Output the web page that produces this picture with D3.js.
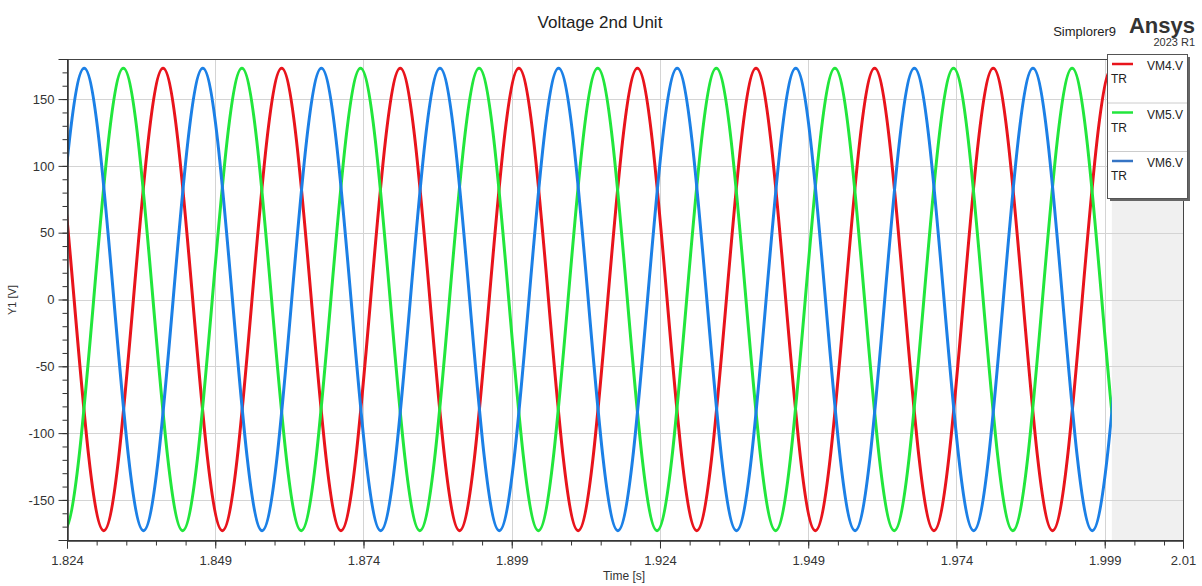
<!DOCTYPE html>
<html>
<head>
<meta charset="utf-8">
<script src="https://cdn.jsdelivr.net/npm/d3@7"></script>
<style>
  html, body { margin: 0; padding: 0; background: #fff; }
  svg { display: block; font-family: "Liberation Sans", Arial, sans-serif; }
</style>
</head>
<body>
<svg id="chart" width="1202" height="586"></svg>
<script>
// ---- data (waveform extremes; the curve is clipped to the data window) ----
const seriesNames = ["VM4.V", "VM5.V", "VM6.V"];
const dataStart = 1.824;
const dataEnd = 2.0002;

const redT = [1.8102, 1.8202, 1.8302, 1.8402, 1.8502, 1.8602, 1.8702, 1.8802, 1.8902, 1.9002, 1.9102,
              1.9202, 1.9302, 1.9402, 1.9502, 1.9602, 1.9702, 1.9802, 1.9902, 2.0002, 2.0102];
const redV = [-173, 173, -173, 173, -173, 173, -173, 173, -173, 173, -173,
              173, -173, 173, -173, 173, -173, 173, -173, 173, -173];

const greenT = [1.8135, 1.8235, 1.8335, 1.8435, 1.8535, 1.8635, 1.8735, 1.8835, 1.8935, 1.9035, 1.9135,
                1.9235, 1.9335, 1.9435, 1.9535, 1.9635, 1.9735, 1.9835, 1.9935, 2.0035, 2.0135];
const greenV = [173, -173, 173, -173, 173, -173, 173, -173, 173, -173, 173,
                -173, 173, -173, 173, -173, 173, -173, 173, -173, 173];

const blueT = [1.8069, 1.8169, 1.8269, 1.8369, 1.8469, 1.8569, 1.8669, 1.8769, 1.8869, 1.8969, 1.9069,
               1.9169, 1.9269, 1.9369, 1.9469, 1.9569, 1.9669, 1.9769, 1.9869, 1.9969, 2.0069, 2.0169];
const blueV = [173, -173, 173, -173, 173, -173, 173, -173, 173, -173, 173,
               -173, 173, -173, 173, -173, 173, -173, 173, -173, 173, -173];

const xTickValues = [1.824, 1.849, 1.874, 1.899, 1.924, 1.949, 1.974, 1.999, 2.0122];
const xTickLabels = ["1.824", "1.849", "1.874", "1.899", "1.924", "1.949", "1.974", "1.999", "2.01"];
const yTickValues = [-150, -100, -50, 0, 50, 100, 150];

// ---- layout ----
const svg = d3.select("#chart");
const L = 67, R = 1183, T = 59, B = 540;
const x = d3.scaleLinear().domain([1.824, 2.0122]).range([L, R]);
const y = d3.scaleLinear().domain([-180, 180]).range([B, T]);
const colors = ["#e8141c", "#22e63c", "#1c80e6"];
const legendColors = ["#e8141c", "#22e63c", "#3574c4"];

// gray region after data end
svg.append("rect")
  .attr("x", x(dataEnd)).attr("y", T)
  .attr("width", R - x(dataEnd)).attr("height", B - T)
  .attr("fill", "#f0f0f0");

// grid
const grid = svg.append("g").attr("stroke", "#d4d4d4").attr("stroke-width", 1);
yTickValues.forEach(v => {
  grid.append("line").attr("x1", L).attr("x2", R)
    .attr("y1", Math.round(y(v)) + 0.5).attr("y2", Math.round(y(v)) + 0.5);
});
xTickValues.slice(1, 8).forEach(v => {
  grid.append("line").attr("y1", T).attr("y2", B)
    .attr("x1", Math.round(x(v)) + 0.5).attr("x2", Math.round(x(v)) + 0.5);
});

// curves
svg.append("clipPath").attr("id", "clip")
  .append("rect").attr("x", x(dataStart)).attr("y", T - 10)
  .attr("width", x(dataEnd) - x(dataStart)).attr("height", B - T + 20);

const line = d3.line().x(d => x(d[0])).y(d => y(d[1])).curve(d3.curveMonotoneX);
const series = [
  d3.zip(redT, redV),
  d3.zip(greenT, greenV),
  d3.zip(blueT, blueV)
];
const curves = svg.append("g").attr("clip-path", "url(#clip)");
series.forEach((s, i) => {
  curves.append("path").attr("d", line(s))
    .attr("fill", "none").attr("stroke", colors[i])
    .attr("stroke-width", 3).attr("stroke-linejoin", "round");
});

// frame
svg.append("rect").attr("x", L + 0.5).attr("y", T + 0.5)
  .attr("width", R - L).attr("height", B - T)
  .attr("fill", "none").attr("stroke", "#444").attr("stroke-width", 1);

// axes
const xMinor = d3.range(0, 38).map(k => 1.824 + k * 0.005).filter(v => v <= 2.0122);
const xAxisMinor = d3.axisBottom(x).tickValues(xMinor).tickSize(5).tickFormat("");
const xAxis = d3.axisBottom(x).tickValues(xTickValues).tickSize(8)
  .tickFormat((d, i) => xTickLabels[i]);
const gxm = svg.append("g").attr("transform", `translate(0,${B + 0.5})`).call(xAxisMinor);
const gx = svg.append("g").attr("transform", `translate(0,${B + 0.5})`).call(xAxis);

const yMinor = d3.range(-170, 180, 10);
const yAxisMinor = d3.axisLeft(y).tickValues(yMinor).tickSize(5).tickFormat("");
const yAxis = d3.axisLeft(y).tickValues(yTickValues).tickSize(9).tickFormat(d => String(d));
const gym = svg.append("g").attr("transform", `translate(${L + 0.5},0)`).call(yAxisMinor);
const gy = svg.append("g").attr("transform", `translate(${L + 0.5},0)`).call(yAxis);

[gx, gxm, gy, gym].forEach(g => {
  g.select(".domain").attr("stroke", "#333");
  g.selectAll(".tick line").attr("stroke", "#333");
  g.selectAll(".tick text").attr("fill", "#333").style("font-size", "13px")
    .style("font-family", "'Liberation Sans', Arial, sans-serif");
});
gx.selectAll(".tick text").attr("dy", "1.05em");
gy.selectAll(".tick text").attr("x", -13);

// titles
svg.append("text").attr("x", 600).attr("y", 28).attr("text-anchor", "middle")
  .style("font-size", "17px").attr("fill", "#222").text("Voltage 2nd Unit");
svg.append("text").attr("x", 1116).attr("y", 36).attr("text-anchor", "end")
  .style("font-size", "13px").attr("fill", "#222").text("Simplorer9");
svg.append("text").attr("x", 1195).attr("y", 33).attr("text-anchor", "end")
  .style("font-size", "22px").style("font-weight", "bold").attr("fill", "#333").text("Ansys");
svg.append("text").attr("x", 1195).attr("y", 46).attr("text-anchor", "end")
  .style("font-size", "11px").attr("fill", "#333").text("2023 R1");
svg.append("text").attr("x", 624).attr("y", 580).attr("text-anchor", "middle")
  .style("font-size", "12px").attr("fill", "#333").text("Time [s]");
svg.append("text").attr("transform", "translate(16,300) rotate(-90)")
  .attr("text-anchor", "middle").style("font-size", "11px").attr("fill", "#333").text("Y1 [V]");

// legend
const lg = svg.append("g");
const lx = 1107, ly = 54, lw = 80, lh = 144;
lg.append("rect").attr("x", lx + 3).attr("y", ly + 3).attr("width", lw).attr("height", lh)
  .attr("fill", "#666");
lg.append("rect").attr("x", lx + 0.5).attr("y", ly + 0.5).attr("width", lw).attr("height", lh)
  .attr("fill", "#fff").attr("stroke", "#555");
seriesNames.forEach((name, i) => {
  const oy = ly + i * 48.5;
  if (i > 0) {
    lg.append("line").attr("x1", lx + 1).attr("x2", lx + lw)
      .attr("y1", oy + 0.5).attr("y2", oy + 0.5).attr("stroke", "#ccc");
  }
  lg.append("line").attr("x1", lx + 5).attr("x2", lx + 26)
    .attr("y1", oy + 10).attr("y2", oy + 10)
    .attr("stroke", legendColors[i]).attr("stroke-width", 2.5);
  lg.append("text").attr("x", lx + 76).attr("y", oy + 16).attr("text-anchor", "end")
    .style("font-size", "12px").attr("fill", "#222").text(name);
  lg.append("text").attr("x", lx + 4).attr("y", oy + 29)
    .style("font-size", "12px").attr("fill", "#222").text("TR");
});
</script>
</body>
</html>
